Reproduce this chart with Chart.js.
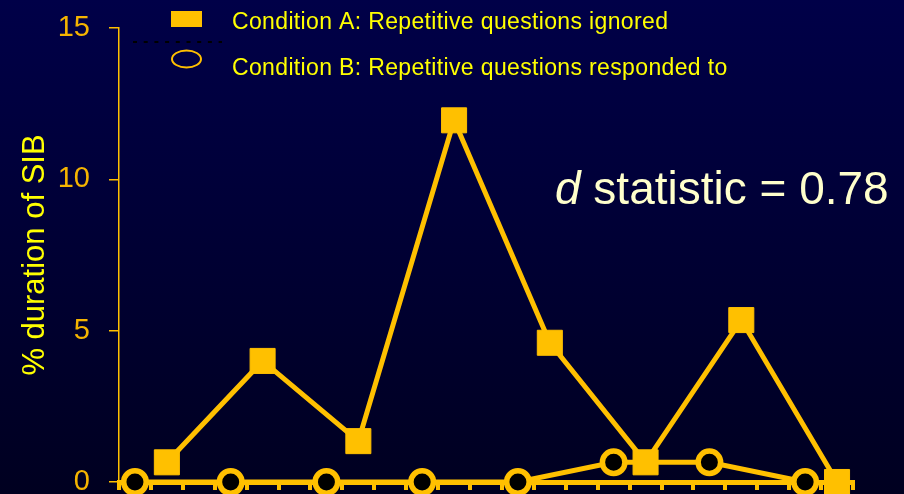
<!DOCTYPE html>
<html><head><meta charset="utf-8">
<script src="https://cdn.jsdelivr.net/npm/chart.js@4"></script>
<style>html,body{margin:0;padding:0;background:#000030;overflow:hidden}#wrap{width:904px;height:494px}</style>
</head><body><div id="wrap"><canvas id="c" width="904" height="494"></canvas></div>
<script>
// ---- data ----
const sessionsA = [2, 5, 8, 11, 14, 17, 20, 23];
const valuesA   = [0.65, 4.0, 1.35, 11.95, 4.6, 0.65, 5.35, 0];
const sessionsB = [1, 4, 7, 10, 13, 16, 19, 22];
const valuesB   = [0, 0, 0, 0, 0, 0.65, 0.65, 0];
const yTickValues = [0, 5, 10, 15];
const sessionCount = 23;
const labelA = 'Condition A: Repetitive questions ignored';
const labelB = 'Condition B: Repetitive questions responded to';
const yTitle = '% duration of SIB';
const statItalic = 'd';
const statRest = ' statistic = 0.78';

const GOLD = '#FFC000';
const TICKGOLD = '#F5B400';
const YELLOW = '#FFFF00';
const FONT = '"Liberation Sans", Arial, sans-serif';

const bgPlugin = {
  id: 'bg',
  beforeDraw(chart) {
    const {ctx, width, height} = chart;
    const g = ctx.createLinearGradient(0, 0, 0, height);
    g.addColorStop(0, '#000048');
    g.addColorStop(1, '#000020');
    ctx.save();
    ctx.fillStyle = g;
    ctx.fillRect(0, 0, width, height);
    ctx.restore();
  }
};

const annoPlugin = {
  id: 'anno',
  afterDraw(chart) {
    const ctx = chart.ctx;
    ctx.save();
    // legend markers
    ctx.fillStyle = GOLD;
    ctx.fillRect(171, 11, 31, 16);
    ctx.strokeStyle = GOLD;
    ctx.lineWidth = 2;
    ctx.beginPath();
    ctx.ellipse(186.5, 59, 14.5, 8.5, 0, 0, Math.PI * 2);
    ctx.stroke();
    // dashed separator
    ctx.strokeStyle = '#000000';
    ctx.lineWidth = 2;
    ctx.setLineDash([4, 6.7]);
    ctx.beginPath();
    ctx.moveTo(133, 42);
    ctx.lineTo(222, 42);
    ctx.stroke();
    ctx.setLineDash([]);
    // legend text
    ctx.fillStyle = YELLOW;
    ctx.font = '23px ' + FONT;
    ctx.textBaseline = 'alphabetic';
    ctx.textAlign = 'left';
    try { ctx.letterSpacing = '0.35px'; } catch (e) {}
    ctx.fillText(labelA, 232, 29);
    ctx.fillText(labelB, 232, 74.5);
    try { ctx.letterSpacing = '0px'; } catch (e) {}
    // statistic
    ctx.fillStyle = '#FFFFCC';
    ctx.font = 'italic 46px ' + FONT;
    ctx.fillText(statItalic, 555, 204);
    const w = ctx.measureText(statItalic).width;
    ctx.font = '46px ' + FONT;
    ctx.fillText(statRest, 555 + w, 204);
    ctx.restore();
  }
};

const boundaries = [];
for (let s = 0; s <= sessionCount; s++) boundaries.push(s + 0.5);

new Chart(document.getElementById('c'), {
  type: 'line',
  data: {
    datasets: [
      {
        label: labelA,
        data: sessionsA.map((s, i) => ({x: s, y: valuesA[i]})),
        borderColor: GOLD,
        borderWidth: 5,
        backgroundColor: GOLD,
        pointStyle: 'rect',
        pointRadius: 17.7,
        pointBorderWidth: 1,
        pointBackgroundColor: GOLD,
        pointBorderColor: GOLD,
        tension: 0,
        clip: false
      },
      {
        label: labelB,
        data: sessionsB.map((s, i) => ({x: s, y: valuesB[i]})),
        borderColor: GOLD,
        borderWidth: 5,
        backgroundColor: '#000000',
        pointStyle: 'circle',
        pointRadius: 11.25,
        pointBorderWidth: 5.5,
        pointBackgroundColor: '#000000',
        pointBorderColor: GOLD,
        tension: 0,
        clip: false
      }
    ]
  },
  options: {
    responsive: false,
    devicePixelRatio: 1,
    animation: false,
    events: [],
    layout: {autoPadding: false, padding: {top: 28, right: 51, bottom: 0, left: 0}},
    plugins: {legend: {display: false}, tooltip: {enabled: false}, title: {display: false}},
    scales: {
      x: {
        type: 'linear',
        position: 'bottom',
        min: 0.5,
        max: sessionCount + 0.5,
        afterBuildTicks(scale) { scale.ticks = boundaries.map(v => ({value: v})); },
        afterFit(scale) { scale.height = 12; scale.paddingLeft = 0; scale.paddingRight = 0; scale.paddingTop = 0; scale.paddingBottom = 0; },
        ticks: {display: false},
        grid: {drawOnChartArea: false, drawTicks: true, tickLength: 8, lineWidth: 4, color: GOLD},
        border: {display: true, color: GOLD, width: 5}
      },
      y: {
        type: 'linear',
        min: 0,
        max: 15,
        afterBuildTicks(scale) { scale.ticks = yTickValues.map(v => ({value: v})); },
        afterFit(scale) { scale.width = 119; scale.paddingTop = 0; scale.paddingBottom = 0; scale.paddingLeft = 0; scale.paddingRight = 0; },
        ticks: {color: TICKGOLD, font: {family: FONT, size: 29, lineHeight: 0.5}, padding: 19},
        grid: {drawOnChartArea: false, drawTicks: true, tickLength: 10, lineWidth: 1.5, color: GOLD},
        border: {display: true, color: GOLD, width: 1.5},
        title: {display: true, text: yTitle, color: YELLOW, font: {family: FONT, size: 31}, padding: {top: 17, bottom: 0}}
      }
    }
  },
  plugins: [bgPlugin, annoPlugin]
});
</script></body></html>
